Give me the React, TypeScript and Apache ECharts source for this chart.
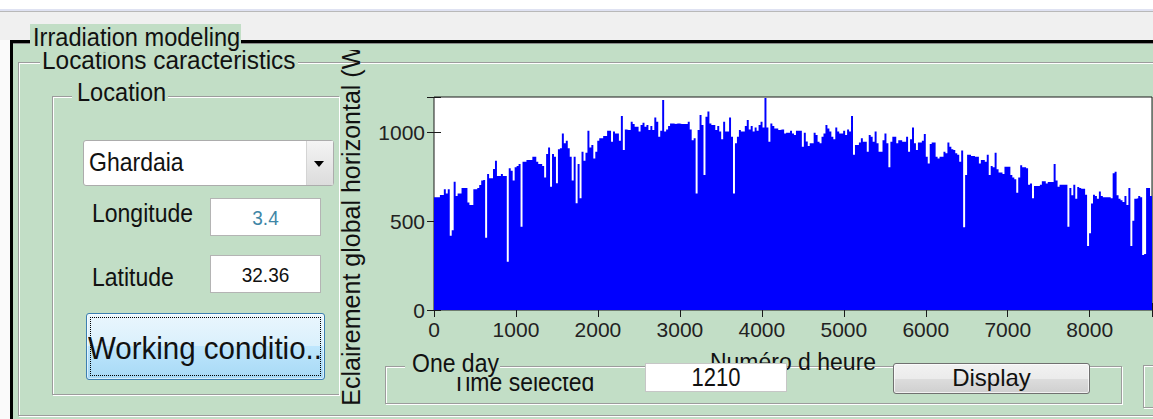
import React, { useEffect, useRef } from "react";
import * as echarts from "echarts";

// Daily peak of global horizontal irradiance (W/m²), one value per day (365 days)
const dailyPeak: number[] = [
  635, 635, 635, 648, 648, 680, 657, 680, 419, 450,
  723, 642, 657, 657, 688, 688, 688, 605, 592, 592,
  680, 680, 688, 704, 729, 733, 407, 766, 742, 742,
  794, 841, 755, 755, 766, 755, 755, 272, 798, 785,
  729, 804, 811, 822, 469, 835, 835, 845, 845, 845,
  864, 864, 835, 822, 822, 811, 747, 879, 916, 695,
  879, 864, 714, 905, 911, 995, 939, 954, 911, 864,
  729, 864, 601, 822, 629, 892, 841, 886, 1010, 916,
  930, 854, 892, 954, 967, 967, 980, 980, 1010, 1010,
  948, 1005, 995, 995, 954, 1093, 901, 1017, 1014, 1014,
  1061, 1048, 1033, 1033, 1005, 1042, 1055, 1033, 1042, 1014,
  1037, 1014, 1085, 1061, 976, 1010, 1183, 1005, 1017, 1037,
  1051, 1051, 1048, 1051, 1051, 1048, 1048, 1048, 1048, 1061,
  1017, 957, 967, 657, 1014, 1099, 1042, 761, 1089, 1118,
  1051, 1042, 1042, 1014, 1037, 1005, 962, 1061, 1005, 1005,
  1085, 976, 657, 939, 976, 1014, 1005, 1005, 1037, 1070,
  1017, 1037, 1005, 1028, 1010, 1042, 1061, 1028, 1195, 1028,
  948, 1051, 1037, 1023, 1023, 1014, 1017, 1017, 995, 999,
  999, 1010, 995, 986, 1010, 1010, 1010, 920, 999, 950,
  924, 939, 939, 999, 986, 948, 939, 976, 995, 1042,
  1023, 1005, 976, 962, 1028, 1005, 995, 995, 1010, 986,
  1017, 1005, 1093, 875, 930, 930, 943, 967, 948, 948,
  892, 986, 976, 948, 1005, 939, 892, 892, 957, 995,
  939, 804, 948, 976, 976, 939, 957, 957, 948, 948,
  976, 892, 962, 1028, 939, 901, 943, 943, 954, 992,
  864, 826, 935, 943, 943, 864, 854, 864, 864, 892,
  883, 943, 920, 905, 901, 883, 875, 835, 898, 466,
  761, 875, 875, 868, 868, 864, 864, 826, 845, 845,
  835, 875, 761, 811, 804, 886, 793, 774, 774, 766,
  807, 807, 807, 761, 747, 736, 661, 747, 816, 804,
  804, 798, 706, 712, 629, 699, 699, 699, 706, 725,
  725, 712, 721, 721, 721, 822, 729, 695, 706, 706,
  706, 706, 469, 687, 646, 706, 627, 693, 687, 683,
  683, 650, 361, 432, 600, 650, 642, 627, 667, 642,
  635, 635, 635, 635, 629, 770, 779, 646, 627, 618,
  608, 642, 592, 687, 361, 503, 627, 629, 642, 635,
  310, 315, 687, 687, 642,
];

const hoursPerDay = 24;
const hoursInYear = 8760;
const xTickStep = 1000;
const yMax = 1200;
const yTickStep = 500;

const xAxisTitle = "Numéro d heure";
const yAxisTitle = "Eclairement global horizontal (W/m²)";
const panelTitle = "Irradiation modeling";
const subPanelTitle = "Locations caracteristics";
const locationTitle = "Location";
const locationName = "Ghardaia";
const longitudeLabel = "Longitude";
const longitudeValue = "3.4";
const latitudeLabel = "Latitude";
const latitudeValue = "32.36";
const workingLabel = "Working conditio..";
const oneDayTitle = "One day";
const timeLabel = "Time selected";
const timeValue = "1210";
const displayLabel = "Display";

const FONT = "'Liberation Sans', Arial, sans-serif";
const GREEN = "#c2dec6";

type TProps = {
  x: number;
  b: number;
  fs: number;
  k?: number;
  w?: number;
  color?: string;
  children: React.ReactNode;
  z?: number;
};
const T = ({ x, b, fs, k = 1.1, w, color = "#111", children, z = 3 }: TProps) => (
  <div
    style={{
      position: "absolute",
      left: x,
      top: b - 0.8465 * fs * k,
      width: w,
      textAlign: w ? "center" : "left",
      fontSize: fs,
      lineHeight: 1,
      fontFamily: FONT,
      whiteSpace: "nowrap",
      color,
      transform: `scaleY(${k})`,
      transformOrigin: "0 0",
      zIndex: z,
    }}
  >
    {children}
  </div>
);

const box = (
  left: number,
  top: number,
  width: number,
  height: number,
  extra: React.CSSProperties = {}
): React.CSSProperties => ({
  position: "absolute",
  left,
  top,
  width,
  height,
  boxSizing: "border-box",
  ...extra,
});

const etched = (extra: React.CSSProperties = {}): React.CSSProperties => ({
  border: "1px solid #9c9c9c",
  boxShadow: "inset 1px 1px 0 #ffffff, 1px 1px 0 #ffffff",
  zIndex: 0,
  ...extra,
});

export default function App() {
  const ref = useRef<HTMLDivElement>(null);

  useEffect(() => {
    if (!ref.current) return;
    const chart = echarts.init(ref.current, null, { renderer: "svg" });
    const data = dailyPeak.map((v, i) => [i * hoursPerDay, v]);
    data.push([hoursInYear, dailyPeak[dailyPeak.length - 1]]);
    const tick = { inside: true, length: 7, lineStyle: { color: "#1a1a1a", width: 1 } };
    chart.setOption({
      animation: false,
      textStyle: { fontFamily: FONT },
      grid: {
        left: 434,
        top: 47,
        width: 718,
        height: 213,
        show: true,
        containLabel: false,
        outerBoundsMode: "none",
        backgroundColor: "#ffffff",
        borderColor: "#1a1a1a",
        borderWidth: 1,
      },
      xAxis: [
        {
          type: "value",
          min: 0,
          max: hoursInYear,
          interval: xTickStep,
          position: "bottom",
          name: xAxisTitle,
          nameLocation: "middle",
          nameGap: 40,
          nameTextStyle: { fontSize: 23, color: "#111", fontFamily: FONT },
          axisLine: { show: false },
          axisTick: tick,
          axisLabel: {
            fontSize: 21,
            color: "#222",
            margin: 9,
            formatter: (v: number) => (v % xTickStep === 0 ? String(v) : ""),
          },
          splitLine: { show: false },
        },
        {
          type: "value",
          min: 0,
          max: hoursInYear,
          interval: xTickStep,
          position: "top",
          axisLine: { show: false },
          axisTick: tick,
          axisLabel: { show: false },
          splitLine: { show: false },
        },
      ],
      yAxis: [
        {
          type: "value",
          min: 0,
          max: yMax,
          interval: yTickStep,
          position: "left",
          name: yAxisTitle,
          nameLocation: "middle",
          nameGap: 71,
          nameTextStyle: { fontSize: 25, color: "#111", fontFamily: FONT },
          axisLine: { show: false },
          axisTick: tick,
          axisLabel: {
            fontSize: 21,
            color: "#222",
            margin: 9,
            formatter: (v: number) => (v % yTickStep === 0 ? String(v) : ""),
          },
          splitLine: { show: false },
        },
        {
          type: "value",
          min: 0,
          max: yMax,
          interval: yTickStep,
          position: "right",
          axisLine: { show: false },
          axisTick: tick,
          axisLabel: { show: false },
          splitLine: { show: false },
        },
      ],
      series: [
        {
          type: "line",
          xAxisIndex: 0,
          yAxisIndex: 0,
          step: "end",
          symbol: "none",
          data,
          lineStyle: { width: 0, color: "#0000ff" },
          itemStyle: { color: "#0000ff" },
          areaStyle: { color: "#0000ff", opacity: 1 },
        },
      ],
    });
    return () => chart.dispose();
  }, []);

  return (
    <div
      style={{
        position: "fixed",
        left: 0,
        top: 0,
        width: 1153,
        height: 419,
        overflow: "hidden",
        background: "#ffffff",
        fontFamily: FONT,
      }}
    >
      {/* window chrome */}
      <div style={box(0, 9, 1153, 2, { background: "#dfe2f2" })} />
      <div style={box(0, 11, 1153, 1, { background: "#b9b9b9" })} />
      <div style={box(0, 12, 1153, 28, { background: "#f0f0f0" })} />
      <div style={box(0, 40, 10, 379, { background: "#fafafa" })} />
      <div style={box(12, 43, 1141, 376, { background: GREEN })} />
      <div style={box(10, 40, 1143, 3, { background: "#000" })} />
      <div style={box(12, 43, 1141, 1, { background: "#8a8a8a" })} />
      <div style={box(10, 40, 2.5, 379, { background: "#000" })} />

      {/* etched frames */}
      <div style={box(18, 62, 1200, 354, etched())} />
      <div style={box(52, 96, 287, 299, etched({ borderRight: "none" }))} />
      <div style={box(385, 366, 737, 38, etched())} />
      <div style={box(1143, 365, 40, 43, etched())} />

      {/* frame titles */}
      <div style={box(40, 52, 258, 22, { background: GREEN, zIndex: 2 })} />
      <T x={42} b={70} fs={24.4} k={1.05} z={2}>
        {subPanelTitle}
      </T>
      <div style={box(30, 24, 211, 28, { background: GREEN, zIndex: 3 })} />
      <T x={33} b={47.5} fs={23.6} k={1.07} z={4}>
        {panelTitle}
      </T>
      <div style={box(72, 86, 96, 22, { background: GREEN, zIndex: 2 })} />
      <T x={77} b={102.5} fs={23.6} k={1.12}>
        {locationTitle}
      </T>

      {/* chart */}
      <div
        ref={ref}
        style={{ position: "absolute", left: 0, top: 50, width: 1153, height: 369, overflow: "hidden", zIndex: 1 }}
      />

      {/* location widgets */}
      <div
        style={box(83, 140, 251, 46, {
          background: "#fff",
          border: "1px solid #acacac",
          borderRadius: 3,
          zIndex: 2,
        })}
      />
      <div
        style={box(306, 141, 27, 44, {
          background: "linear-gradient(#f4f4f4, #dcdcdc)",
          borderLeft: "1px solid #d4d4d4",
          zIndex: 2,
        })}
      />
      <div
        style={{
          position: "absolute",
          left: 314,
          top: 161,
          width: 0,
          height: 0,
          borderLeft: "5.5px solid transparent",
          borderRight: "5.5px solid transparent",
          borderTop: "6px solid #000",
          zIndex: 3,
        }}
      />
      <T x={89} b={171.5} fs={23} k={1.15}>
        {locationName}
      </T>

      <T x={92} b={222.7} fs={23}>
        {longitudeLabel}
      </T>
      <div style={box(210, 198, 111, 38, { background: "#fff", border: "1px solid #b4b4b4", zIndex: 2 })} />
      <T x={210} w={111} b={224.3} fs={19} color="#3f86a6">
        {longitudeValue}
      </T>

      <T x={92} b={286.7} fs={23}>
        {latitudeLabel}
      </T>
      <div style={box(210, 255, 111, 38, { background: "#fff", border: "1px solid #b4b4b4", zIndex: 2 })} />
      <T x={210} w={111} b={282} fs={19}>
        {latitudeValue}
      </T>

      <div
        style={box(86, 313, 239, 67, {
          border: "1px solid #3c7fb1",
          borderRadius: 3,
          background: "linear-gradient(#eaf6fd 0%, #d9f0fc 50%, #bee6fd 50%, #a7d9f5 100%)",
          boxShadow: "inset 0 0 0 1px rgba(255,255,255,0.55)",
          zIndex: 2,
        })}
      />
      <div style={box(90, 317, 231, 59, { border: "1px dotted #000", zIndex: 3 })} />
      <T x={88} b={359.3} fs={29.5} k={1.05}>
        {workingLabel}
      </T>

      {/* one day panel */}
      <div style={box(405, 356, 95, 20, { background: GREEN, zIndex: 2 })} />
      <T x={412} b={372} fs={23}>
        {oneDayTitle}
      </T>
      <div style={{ position: "absolute", left: 440, top: 377, width: 170, height: 22, overflow: "hidden", zIndex: 3 }}>
        <div
          style={{
            position: "absolute",
            left: 12,
            top: 391 - 377 - 0.8465 * 23 * 1.15,
            fontSize: 23,
            lineHeight: 1,
            fontFamily: FONT,
            whiteSpace: "nowrap",
            color: "#111",
            transform: "scaleY(1.15)",
            transformOrigin: "0 0",
          }}
        >
          {timeLabel}
        </div>
      </div>
      <div style={box(645, 363, 142, 29, { background: "#fff", border: "1px solid #c6c6c6", zIndex: 2 })} />
      <T x={645} w={142} b={386} fs={22} k={1.2}>
        {timeValue}
      </T>
      <div
        style={box(893, 363, 197, 31, {
          border: "1px solid #707070",
          borderRadius: 3,
          background: "linear-gradient(#f2f2f2 0%, #ebebeb 50%, #dddddd 50%, #cfcfcf 100%)",
          boxShadow: "inset 0 0 0 1px rgba(255,255,255,0.7)",
          zIndex: 2,
        })}
      />
      <T x={893} w={197} b={386.7} fs={24} k={1.0}>
        {displayLabel}
      </T>
    </div>
  );
}
